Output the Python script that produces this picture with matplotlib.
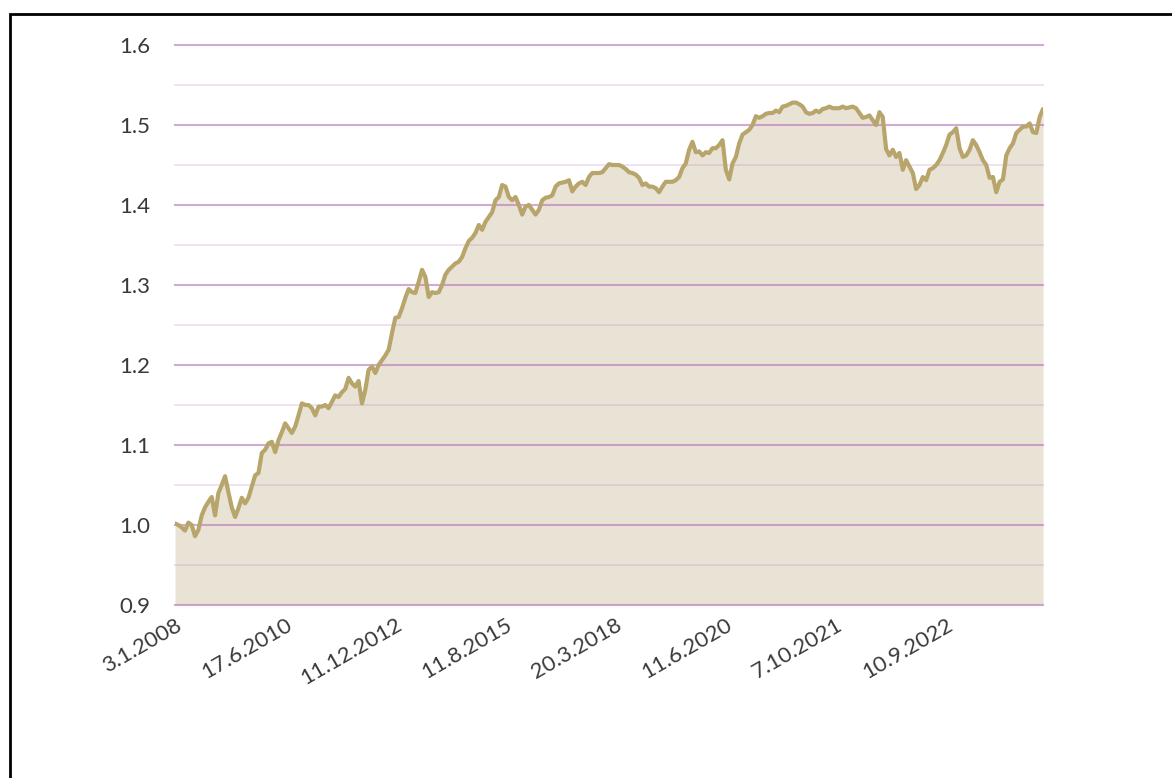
import matplotlib
matplotlib.use("Agg")
import matplotlib.pyplot as plt
from matplotlib.patches import Rectangle
import numpy as np

# Cumulative index level, one value per observation (categorical x axis)
index_values = [
    # 2008 - 2010
    1.002, 1.000, 0.997, 0.993, 1.003, 1.000, 0.986, 0.994, 1.012, 1.022,
    1.029, 1.035, 1.012, 1.040, 1.050, 1.061, 1.041, 1.022, 1.010, 1.021,
    1.034, 1.027, 1.034, 1.048, 1.062, 1.065, 1.090, 1.094, 1.102, 1.104,
    1.091, 1.106, 1.116, 1.127, 1.121, 1.115, 1.123, 1.137, 1.152, 1.150,
    1.150, 1.146, 1.137, 1.148, 1.148, 1.150, 1.146, 1.154, 1.162, 1.160,
    1.166, 1.170, 1.184, 1.177, 1.173,
    # 2010 - 2015
    1.180, 1.152, 1.169, 1.194, 1.198, 1.190, 1.200, 1.206, 1.212, 1.219,
    1.240, 1.259, 1.260, 1.271, 1.284, 1.295, 1.291, 1.290, 1.304, 1.319,
    1.310, 1.285, 1.291, 1.290, 1.291, 1.300, 1.313, 1.319, 1.323, 1.327,
    1.329, 1.335, 1.346, 1.355, 1.359, 1.365, 1.375, 1.369, 1.379, 1.385,
    1.391, 1.406, 1.410, 1.425, 1.423, 1.410, 1.406, 1.410, 1.400,
    # 2015 - 2020
    1.388, 1.398, 1.400, 1.394, 1.388, 1.394, 1.406, 1.409, 1.410, 1.412,
    1.423, 1.427, 1.428, 1.429, 1.431, 1.417, 1.423, 1.427, 1.429, 1.425,
    1.435, 1.440, 1.440, 1.440, 1.441, 1.446, 1.451, 1.450, 1.450, 1.450,
    1.448, 1.445, 1.441, 1.440, 1.438, 1.434, 1.425, 1.427, 1.423, 1.423,
    1.421, 1.416, 1.423, 1.429, 1.429, 1.429, 1.431, 1.435, 1.446, 1.452,
    1.469, 1.479, 1.466, 1.467,
    # 2020 - 2021
    1.462, 1.466, 1.465, 1.471, 1.471, 1.475, 1.481, 1.444, 1.432, 1.452,
    1.460, 1.477, 1.488, 1.491, 1.494, 1.500, 1.511, 1.509, 1.511, 1.514,
    1.515, 1.515, 1.518, 1.516, 1.523, 1.524, 1.526, 1.528, 1.528, 1.526,
    1.523, 1.516, 1.514, 1.515, 1.518, 1.516, 1.520, 1.521, 1.523, 1.521,
    1.521, 1.521, 1.523, 1.521, 1.522, 1.523, 1.521, 1.515, 1.509, 1.510,
    1.512, 1.506, 1.500, 1.516, 1.510,
    # 2021 - 2023
    1.470, 1.462, 1.469, 1.460, 1.465, 1.444, 1.456, 1.448, 1.440, 1.420,
    1.425, 1.435, 1.431, 1.444, 1.446, 1.450, 1.456, 1.465, 1.475, 1.488,
    1.491, 1.496, 1.471, 1.460, 1.462, 1.469, 1.481, 1.475, 1.466, 1.456,
    1.450, 1.434, 1.435, 1.416, 1.429, 1.432, 1.462, 1.471, 1.477, 1.490,
    1.494, 1.498, 1.498, 1.502, 1.491, 1.490, 1.510, 1.520,
]

tick_labels = ["3.1.2008", "17.6.2010", "11.12.2012", "11.8.2015",
               "20.3.2018", "11.6.2020", "7.10.2021", "10.9.2022"]
tick_step = 33

y_major = [0.9, 1.0, 1.1, 1.2, 1.3, 1.4, 1.5, 1.6]
y_minor = [0.95, 1.05, 1.15, 1.25, 1.35, 1.45, 1.55]

line_color = "#b8a56c"
fill_color = "#e9e3d6"
grid_color = "#b970b9"
text_color = "#3a3a3a"

plt.rcParams["font.family"] = ["Lato", "DejaVu Sans"]

fig = plt.figure(figsize=(11.72, 7.78), dpi=100)
ax = fig.add_axes([175 / 1172, 1 - 605 / 778, 868 / 1172, 560 / 778])

x = np.arange(len(index_values))
y = np.array(index_values)

ax.fill_between(x, 0.9, y, color=fill_color, lw=0, zorder=0.5)
for v in y_major:
    ax.axhline(v, color=grid_color, lw=1.5, alpha=0.6, zorder=1, clip_on=False)
for v in y_minor:
    ax.axhline(v, color=grid_color, lw=1.4, alpha=0.2, zorder=1, clip_on=False)
ax.plot(x, y, color=line_color, lw=3.0, zorder=3, solid_joinstyle="round",
        solid_capstyle="round")

ax.set_xlim(0, len(index_values) - 1)
ax.set_ylim(0.9, 1.6)

ax.set_yticks(y_major)
ax.set_yticklabels([f"{v:.1f}" for v in y_major])
ax.set_xticks([i * tick_step for i in range(len(tick_labels))])
ax.set_xticklabels(tick_labels, rotation=30, ha="right", rotation_mode="anchor")

ax.tick_params(axis="both", length=0, labelsize=16, labelcolor=text_color)
ax.tick_params(axis="y", pad=18)
ax.tick_params(axis="x", pad=7)

for s in ax.spines.values():
    s.set_visible(False)
ax.set_facecolor("white")

# outer frame, open towards the right and bottom edges
fig.add_artist(Rectangle((10 / 1172, -0.2), 1.3, 1.2 - 14 / 778,
                         transform=fig.transFigure, fill=False,
                         edgecolor="black", lw=2, clip_on=False))

fig.savefig("out.png", dpi=100, facecolor="white")
